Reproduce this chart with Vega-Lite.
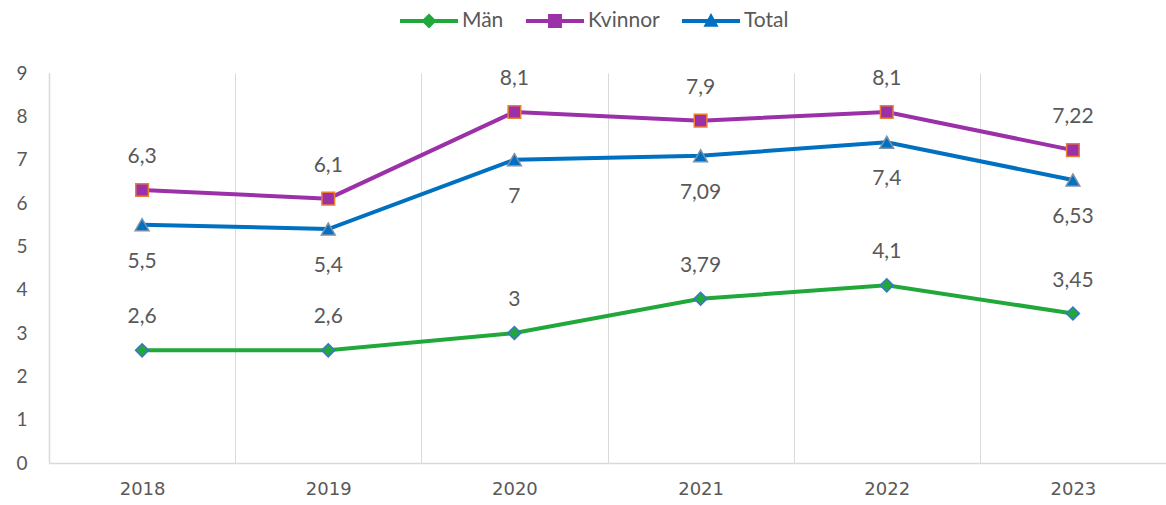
{
  "$schema": "https://vega.github.io/schema/vega-lite/v6.json",
  "width": 1117,
  "height": 390,
  "autosize": "none",
  "padding": {"left": 49, "top": 73, "right": 0, "bottom": 42},
  "background": "white",
  "config": {
    "view": {"stroke": null},
    "font": "Lato",
    "locale": {"number": {"decimal": ",", "thousands": " ", "grouping": [3], "currency": ["", " kr"]}}
  },
  "data": {
    "values": [
      {"year": "2018", "series": "Män", "value": 2.6},
      {"year": "2019", "series": "Män", "value": 2.6},
      {"year": "2020", "series": "Män", "value": 3},
      {"year": "2021", "series": "Män", "value": 3.79},
      {"year": "2022", "series": "Män", "value": 4.1},
      {"year": "2023", "series": "Män", "value": 3.45},
      {"year": "2018", "series": "Kvinnor", "value": 6.3},
      {"year": "2019", "series": "Kvinnor", "value": 6.1},
      {"year": "2020", "series": "Kvinnor", "value": 8.1},
      {"year": "2021", "series": "Kvinnor", "value": 7.9},
      {"year": "2022", "series": "Kvinnor", "value": 8.1},
      {"year": "2023", "series": "Kvinnor", "value": 7.22},
      {"year": "2018", "series": "Total", "value": 5.5},
      {"year": "2019", "series": "Total", "value": 5.4},
      {"year": "2020", "series": "Total", "value": 7},
      {"year": "2021", "series": "Total", "value": 7.09},
      {"year": "2022", "series": "Total", "value": 7.4},
      {"year": "2023", "series": "Total", "value": 6.53}
    ]
  },
  "encoding": {
    "x": {
      "field": "year", "type": "nominal",
      "scale": {"paddingInner": 0, "paddingOuter": 0},
      "axis": {
        "title": null, "labelAngle": 0, "tickBand": "extent", "ticks": false,
        "grid": true, "gridColor": "#d9d9d9", "gridWidth": 1,
        "domainColor": "#d9d9d9", "domainWidth": 1.5,
        "labelFont": "DejaVu Sans", "labelFontSize": 18, "labelColor": "#595959",
        "labelPadding": 17
      }
    },
    "y": {
      "field": "value", "type": "quantitative",
      "scale": {"domain": [0, 9], "nice": false},
      "axis": {
        "title": null, "values": [0, 1, 2, 3, 4, 5, 6, 7, 8, 9], "grid": false,
        "ticks": false, "domainColor": "#d9d9d9", "domainWidth": 1.5,
        "labelFont": "Lato", "labelFontSize": 19, "labelColor": "#595959",
        "labelPadding": 22
      }
    }
  },
  "layer": [
    {
      "mark": {"type": "line", "strokeWidth": 4},
      "encoding": {
        "color": {
          "field": "series", "type": "nominal",
          "scale": {"domain": ["Män", "Kvinnor", "Total"], "range": ["#21a83b", "#9b30a8", "#0070c0"]},
          "legend": {
            "orient": "none", "legendX": 351, "legendY": -81, "direction": "horizontal",
            "title": null, "symbolSize": 3364, "symbolType": "M-1,0H1",
            "labelFont": "Lato", "labelFontSize": 21, "labelColor": "#595959",
            "labelOffset": 4, "columnPadding": 22,
            "encode": {
              "symbols": {
                "update": {
                  "shape": {"signal": "datum.value === 'Män' ? 'M-1,-0.069H-0.191L0,-0.26L0.191,-0.069H1V0.069H0.191L0,0.26L-0.191,0.069H-1Z' : datum.value === 'Kvinnor' ? 'M-1,-0.069H-0.24V-0.24H0.24V-0.069H1V0.069H0.24V0.24H-0.24V0.069H-1Z' : 'M-1,-0.069H-0.114L0,-0.28L0.114,-0.069H1V0.069H0.189L0.26,0.2H-0.26L-0.189,0.069H-1Z'"},
                  "fill": {"signal": "datum.value === 'Män' ? '#21a83b' : datum.value === 'Kvinnor' ? '#9b30a8' : '#0070c0'"},
                  "strokeWidth": {"value": 0},
                  "opacity": {"value": 1}
                }
              }
            }
          }
        }
      }
    },
    {
      "transform": [{"filter": "datum.series === 'Män'"}],
      "mark": {"type": "point", "shape": "diamond", "filled": true, "size": 170, "strokeWidth": 1.5, "opacity": 1, "fill": "#21a83b", "stroke": "#3b74c9"}
    },
    {
      "transform": [{"filter": "datum.series === 'Kvinnor'"}],
      "mark": {"type": "point", "shape": "square", "filled": true, "size": 160, "strokeWidth": 1.5, "opacity": 1, "fill": "#9b30a8", "stroke": "#ed7d31"}
    },
    {
      "transform": [{"filter": "datum.series === 'Total'"}],
      "mark": {"type": "point", "shape": "triangle-up", "filled": true, "size": 190, "strokeWidth": 1.5, "opacity": 1, "fill": "#0070c0", "stroke": "#7f8fa6"}
    },
    {
      "transform": [{"filter": "datum.series !== 'Total'"}],
      "mark": {"type": "text", "dy": -33, "baseline": "middle", "align": "center", "fontSize": 21, "font": "Lato", "color": "#595959"},
      "encoding": {"text": {"field": "value", "type": "quantitative", "format": "~g"}}
    },
    {
      "transform": [{"filter": "datum.series === 'Total'"}],
      "mark": {"type": "text", "dy": 37, "baseline": "middle", "align": "center", "fontSize": 21, "font": "Lato", "color": "#595959"},
      "encoding": {"text": {"field": "value", "type": "quantitative", "format": "~g"}}
    }
  ]
}
